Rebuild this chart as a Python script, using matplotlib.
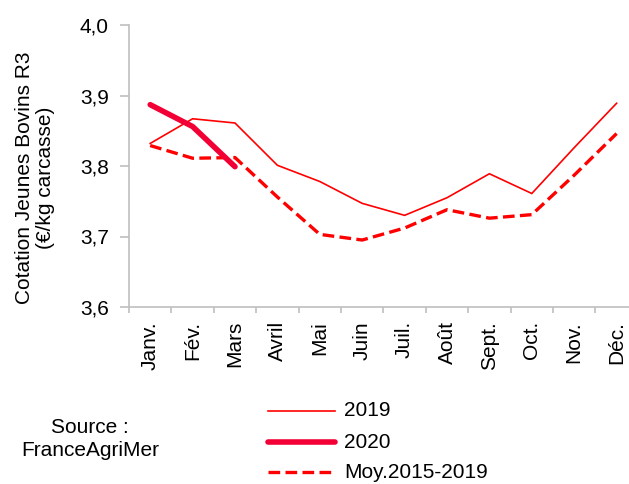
import matplotlib
matplotlib.use("Agg")
import matplotlib.pyplot as plt
from matplotlib.lines import Line2D

months = ["Janv.", "Fév.", "Mars", "Avril", "Mai", "Juin", "Juil.", "Août",
          "Sept.", "Oct.", "Nov.", "Déc."]
v2019 = [3.832, 3.867, 3.861, 3.801, 3.778, 3.747, 3.730, 3.755, 3.789, 3.761, 3.826, 3.889]
v2020 = [3.887, 3.856, 3.799]
vmoy = [3.829, 3.811, 3.812, 3.756, 3.703, 3.695, 3.712, 3.738, 3.726, 3.731, 3.787, 3.846]
yticks = [3.6, 3.7, 3.8, 3.9, 4.0]
ytick_labels = ["3,6", "3,7", "3,8", "3,9", "4,0"]

plt.rcParams['font.family'] = ['Liberation Sans', 'DejaVu Sans']
FS = 15

W, H = 629, 484
fig = plt.figure(figsize=(W / 100, H / 100), dpi=100)
left, right, top, bottom = 129, 129 + 12 * 42.4, 25, 307
ax = fig.add_axes([left / W, 1 - bottom / H, (right - left) / W, (bottom - top) / H])

x = list(range(len(months)))
red = "#FF0000"
ax.plot(x, v2019, color=red, lw=1.2, solid_joinstyle='miter', clip_on=False)
ax.plot(x, vmoy, color=red, lw=2.4, dashes=(3.5, 1.6), dash_capstyle='butt', clip_on=False)
ax.plot(x[:len(v2020)], v2020, color="#F20035", lw=4.0, solid_capstyle='round', clip_on=False)

ax.set_xlim(-0.5, len(months) - 0.5)
ax.set_ylim(3.6, 4.0)
ax.set_yticks(yticks)
ax.set_yticklabels(ytick_labels, fontsize=FS)
ax.set_xticks(x)
ax.set_xticklabels(months, rotation=90, fontsize=FS, va='top')
ax.set_xticks([i - 0.5 for i in range(len(months) + 1)], minor=True)
ax.tick_params(axis='x', which='major', length=0, pad=10)
ax.tick_params(axis='x', which='minor', length=4.5, color='#BFBFBF', width=1.2)
ax.tick_params(axis='y', length=6.5, color='#BFBFBF', width=1.2, pad=8)

for s in ['top', 'right']:
    ax.spines[s].set_visible(False)
for s in ['left', 'bottom']:
    ax.spines[s].set_color('#BFBFBF')
    ax.spines[s].set_linewidth(1.2)


def fx(px):
    return px / W


def fy(py):
    return 1 - py / H


fig.text(fx(35), fy(178), "Cotation Jeunes Bovins R3\n(€/kg carcasse)", fontsize=FS,
         rotation=90, ha='center', va='center', multialignment='center', linespacing=1.1)

rows = [("2019", dict(color=red, lw=1.2)),
        ("2020", dict(color="#F20035", lw=4.0, solid_capstyle='round')),
        ("Moy.2015-2019", dict(color=red, lw=2.4, dashes=(3.5, 1.6), dash_capstyle='butt'))]
ys = [411, 442, 472]
for (lab, kw), yy in zip(rows, ys):
    fig.add_artist(Line2D([fx(268), fx(335)], [fy(yy), fy(yy)], transform=fig.transFigure, **kw))
    fig.text(fx(344), fy(yy), lab, fontsize=FS, va='center', ha='left')

fig.text(fx(90), fy(439), "Source :\nFranceAgriMer", fontsize=FS, ha='center', va='center',
         linespacing=1.25)

fig.savefig("out.png", dpi=100)
